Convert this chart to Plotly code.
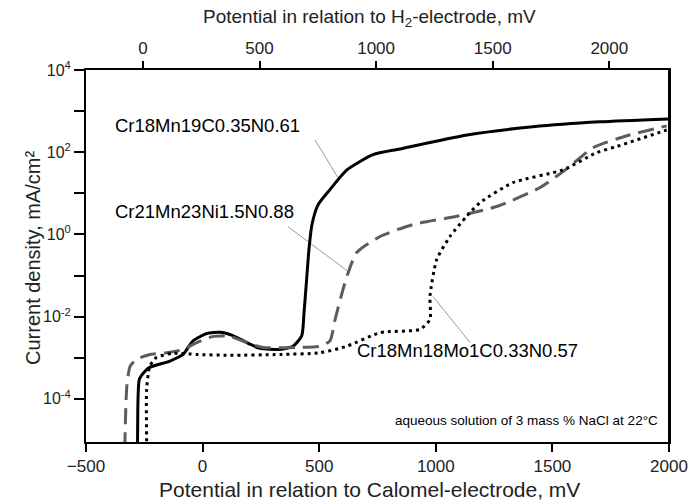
import plotly.graph_objects as go

# Potential vs. saturated calomel electrode, mV, and log10 of current density (mA/cm²)
solid_name = "Cr18Mn19C0.35N0.61"
solid_e = [-280, -279, -277, -271, -247, -226, -140, -84, -41, 18, 75, 130, 203, 246,
           332, 388, 425, 435, 446, 456, 469, 495, 546, 619, 731, 846, 1134, 1417, 1704, 1996]
solid_logi = [-5.2, -5.0, -4.01, -3.52, -3.33, -3.23, -3.08, -2.92, -2.59, -2.41, -2.38, -2.46,
              -2.67, -2.77, -2.80, -2.72, -2.47, -1.90, -1.10, -0.37, 0.24, 0.72, 1.09, 1.57,
              1.94, 2.08, 2.42, 2.62, 2.74, 2.81]

dash_name = "Cr21Mn23Ni1.5N0.88"
dash_e = [-333, -333, -328, -324, -311, -283, -226, -154, -84, -25, 45, 117, 189, 259, 404,
          503, 546, 568, 602, 623, 661, 761, 902, 1090, 1261, 1447, 1567, 1674, 1819, 1990]
dash_logi = [-5.2, -5.03, -4.01, -3.65, -3.21, -3.04, -2.92, -2.88, -2.80, -2.63, -2.48, -2.48,
             -2.63, -2.75, -2.75, -2.72, -2.59, -2.07, -1.34, -0.95, -0.44, -0.05, 0.24, 0.44,
             0.68, 1.14, 1.62, 2.11, 2.40, 2.64]

dot_name = "Cr18Mn18Mo1C0.33N0.57"
dot_e = [-240, -240, -240, -226, -197, -127, -25, 117, 332, 503, 618, 761, 932, 975, 975,
         1004, 1061, 1132, 1189, 1331, 1545, 1690, 1776, 1990]
dot_logi = [-5.2, -5.03, -3.77, -3.20, -2.99, -2.89, -2.92, -2.94, -2.92, -2.88, -2.72, -2.39,
            -2.31, -2.07, -1.50, -0.61, -0.05, 0.44, 0.77, 1.26, 1.57, 1.99, 2.14, 2.54]

# Leader lines from each label to its curve: (potential, log10 current) pairs
leader_solid = ([482, 581], [2.30, 1.38])
leader_dash = ([366, 619], [0.19, -0.88])
leader_dot = ([988, 1147], [-1.51, -2.63])

# Axis settings
x_range = [-500, 2000]
x_ticks = [-500, 0, 500, 1000, 1500, 2000]
she_offset = 256  # shift between calomel and hydrogen electrode scales on the top axis
she_ticks = [0, 500, 1000, 1500, 2000]
y_major = [-4, -2, 0, 2, 4]
y_labels = ["10<sup>-4</sup>", "10<sup>-2</sup>", "10<sup>0</sup>", "10<sup>2</sup>",
            "10<sup>4</sup>"]
y_minor = [-3, -1, 1, 3]

FONT = "Liberation Sans, Arial, sans-serif"
TEXT = "#222"

fig = go.Figure()

for xs, ls in (leader_solid, leader_dash, leader_dot):
    fig.add_trace(go.Scatter(x=xs, y=[10 ** v for v in ls], mode="lines",
                             line=dict(color="#9a9a9a", width=1), hoverinfo="skip"))

fig.add_trace(go.Scatter(x=solid_e, y=[10 ** v for v in solid_logi], mode="lines",
                         line=dict(color="black", width=3, shape="spline", smoothing=0.6),
                         name=solid_name))
fig.add_trace(go.Scatter(x=dash_e, y=[10 ** v for v in dash_logi], mode="lines",
                         line=dict(color="#5c5c5c", width=3, dash="16px,8px",
                                   shape="spline", smoothing=0.6),
                         name=dash_name))
fig.add_trace(go.Scatter(x=dot_e, y=[10 ** v for v in dot_logi], mode="lines",
                         line=dict(color="black", width=3, dash="3px,4px",
                                   shape="spline", smoothing=0.6),
                         name=dot_name))

# Invisible trace that carries the hydrogen-electrode axis on top
fig.add_trace(go.Scatter(x=[x_range[0] + she_offset], y=[1], xaxis="x2", mode="markers",
                         marker=dict(opacity=0), showlegend=False, hoverinfo="skip"))

axis_common = dict(showgrid=False, zeroline=False, showline=True, linecolor="black",
                   linewidth=2, ticks="outside", tickcolor="black", tickwidth=2,
                   automargin=False)
tick_font = dict(family=FONT, size=17, color=TEXT)

fig.update_layout(
    width=689, height=501,
    margin=dict(l=86, r=20, t=70, b=59, autoexpand=False),
    paper_bgcolor="white", plot_bgcolor="white",
    showlegend=False,
    xaxis=dict(range=x_range, tickvals=x_ticks, ticklen=8, tickfont=tick_font,
               **axis_common),
    xaxis2=dict(range=[x_range[0] + she_offset, x_range[1] + she_offset], overlaying="x",
                side="top", tickvals=she_ticks, ticklen=7, tickfont=tick_font,
                **axis_common),
    yaxis=dict(type="log", range=[-5.05, 4], tickvals=[10 ** d for d in y_major],
               ticktext=y_labels, ticklen=10, mirror=True,
               tickfont=dict(family=FONT, size=16, color=TEXT),
               minor=dict(tickvals=[10 ** d for d in y_minor], ticks="outside", ticklen=10,
                          tickwidth=2, tickcolor="black", showgrid=False),
               **axis_common),
)

# Right-hand frame edge
fig.add_shape(type="line", xref="paper", yref="paper", x0=1, x1=1, y0=0, y1=1,
              line=dict(color="black", width=2))

def title(text, x, y, xs=0, ys=0, angle=0, size=19):
    fig.add_annotation(text=text, xref="paper", yref="paper", x=x, y=y, xshift=xs,
                       yshift=ys, showarrow=False, textangle=angle,
                       xanchor="center", yanchor="middle",
                       font=dict(family=FONT, size=size, color=TEXT))

title("Potential in relation to Calomel-electrode, mV", 0.5, 0, xs=-8, ys=-47, size=21)
title("Potential in relation to H<sub>2</sub>-electrode, mV", 0.5, 1, xs=-8, ys=52, size=19)
title("Current density, mA/cm²", 0, 0.5, xs=-53, ys=-2, angle=-90, size=20)

label_font = dict(family=FONT, size=18.5, color="black")
fig.add_annotation(x=-384, y=2.66, text=solid_name, showarrow=False, xanchor="left",
                   font=label_font)
fig.add_annotation(x=-384, y=0.55, text=dash_name, showarrow=False, xanchor="left",
                   font=label_font)
fig.add_annotation(x=653, y=-2.82, text=dot_name, showarrow=False, xanchor="left",
                   font=label_font)
fig.add_annotation(x=816, y=-4.52, text="aqueous solution of 3 mass % NaCl at 22°C",
                   showarrow=False, xanchor="left",
                   font=dict(family=FONT, size=13.5, color="black"))

fig.write_html("out.html")
